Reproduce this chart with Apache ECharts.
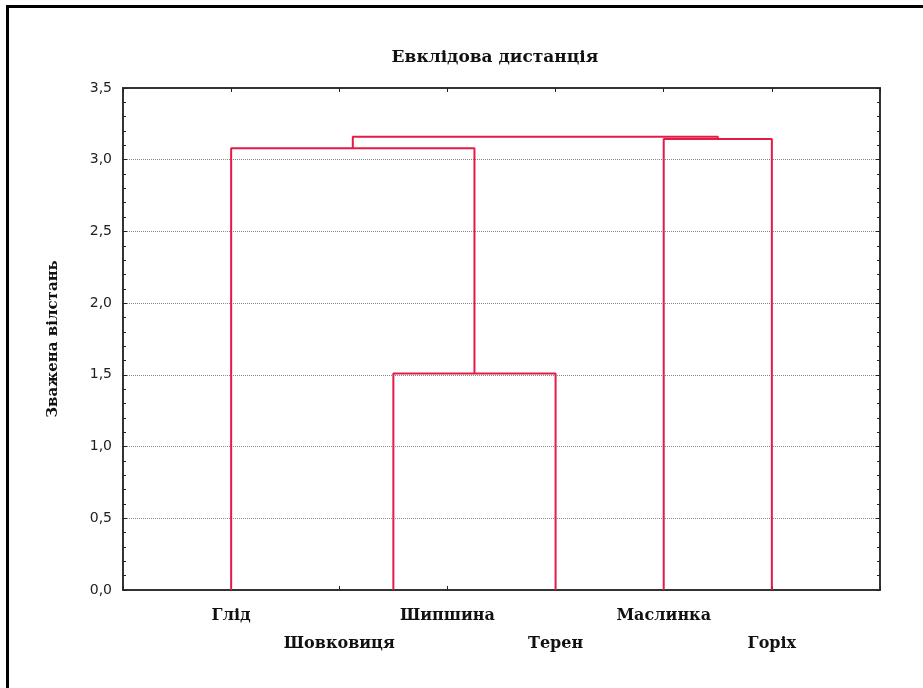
<!DOCTYPE html>
<html>
<head>
<meta charset="utf-8">
<script src="https://cdn.jsdelivr.net/npm/echarts@6/dist/echarts.min.js"></script>
<style>
  html, body { margin: 0; padding: 0; background: #fff; }
  #chart { width: 923px; height: 688px; }
</style>
</head>
<body>
<div id="chart"></div>
<script>
// ---- data ----
const titleText = 'Евклідова дистанція';
const yAxisTitle = 'Зважена вілстань';
const leafNames = ['Глід', 'Шовковиця', 'Шипшина', 'Терен', 'Маслинка', 'Горіх'];
const leafSlots = [1, 2, 3, 4, 5, 6];
const yMin = 0, yMax = 3.5, yStep = 0.5;
// dendrogram leaves as drawn (x position on the slot axis)
const branchLeafX = [1, 2.5, 4, 5, 6];
// merges: node ids 0..4 are leaves, each merge creates node 5,6,7,...
const mergeLeft = [1, 0, 3, 6];
const mergeRight = [2, 5, 4, 7];
const mergeHeight = [1.51, 3.08, 3.145, 3.16];

// ---- build link paths ----
const nodeX = branchLeafX.slice();
const nodeH = branchLeafX.map(() => 0);
const linkSeries = [];
mergeHeight.forEach((h, i) => {
  const l = mergeLeft[i], r = mergeRight[i];
  const pts = [[nodeX[l], nodeH[l]], [nodeX[l], h], [nodeX[r], h], [nodeX[r], nodeH[r]]];
  nodeX.push((nodeX[l] + nodeX[r]) / 2);
  nodeH.push(h);
  linkSeries.push({
    type: 'line', data: pts, symbol: 'none', silent: true,
    lineStyle: { color: '#e31b47', width: 2 }, z: 5
  });
});

const serif = '"DejaVu Serif", "Liberation Serif", serif';
const sans = '"DejaVu Sans", "Liberation Sans", sans-serif';
const frameColor = '#333';

const chart = echarts.init(document.getElementById('chart'));
chart.setOption({
  animation: false,
  backgroundColor: '#fff',
  title: {
    text: titleText, left: 490, top: 44, textAlign: 'center',
    textStyle: { fontFamily: serif, fontWeight: 'bold', fontSize: 17, color: '#111' }
  },
  grid: { left: 123, right: 43, top: 88, bottom: 98 },
  xAxis: [{
    type: 'value', min: 0, max: 7, interval: 1, position: 'bottom',
    axisLine: { show: true, onZero: false, lineStyle: { color: frameColor, width: 2 } },
    axisTick: { show: true, inside: true, length: 4, lineStyle: { color: '#222' } },
    splitLine: { show: false },
    axisLabel: {
      margin: 12, interval: 0, lineHeight: 28,
      fontFamily: serif, fontWeight: 'bold', fontSize: 16, color: '#111',
      verticalAlign: 'top',
      formatter: function (v) {
        const idx = leafSlots.indexOf(Math.round(v));
        if (idx < 0) return '';
        return idx % 2 === 0 ? leafNames[idx] + '\n ' : ' \n' + leafNames[idx];
      }
    }
  }, {
    type: 'value', min: 0, max: 7, interval: 1, position: 'top',
    axisLine: { show: true, onZero: false, lineStyle: { color: frameColor, width: 2 } },
    axisTick: { show: true, inside: true, length: 4, lineStyle: { color: '#222' } },
    splitLine: { show: false }, axisLabel: { show: false }
  }],
  yAxis: [{
    type: 'value', min: yMin, max: yMax, interval: yStep, position: 'left',
    name: yAxisTitle, nameLocation: 'middle', nameGap: 62, nameRotate: 90,
    nameTextStyle: { fontFamily: serif, fontWeight: 'bold', fontSize: 15, color: '#111' },
    axisLine: { show: true, onZero: false, lineStyle: { color: frameColor, width: 2 } },
    axisTick: { show: true, inside: true, length: 4, lineStyle: { color: '#222' } },
    minorTick: { show: true, splitNumber: 5, length: 3, lineStyle: { color: '#222' } },
    splitLine: { show: true, lineStyle: { type: 'dotted', color: '#888', width: 1 } },
    axisLabel: {
      margin: 11, fontFamily: sans, fontSize: 14, color: '#222',
      formatter: v => v.toFixed(1).replace('.', ',')
    }
  }, {
    type: 'value', min: yMin, max: yMax, interval: yStep, position: 'right',
    axisLine: { show: true, onZero: false, lineStyle: { color: frameColor, width: 2 } },
    axisTick: { show: true, inside: true, length: 4, lineStyle: { color: '#222' } },
    minorTick: { show: true, splitNumber: 5, length: 3, lineStyle: { color: '#222' } },
    splitLine: { show: false }, axisLabel: { show: false }
  }],
  graphic: [{
    type: 'rect', silent: true,
    shape: { x: 7.5, y: 6.5, width: 1000, height: 1000 },
    style: { fill: 'none', stroke: '#000', lineWidth: 3 }
  }],
  series: linkSeries
});
</script>
</body>
</html>
